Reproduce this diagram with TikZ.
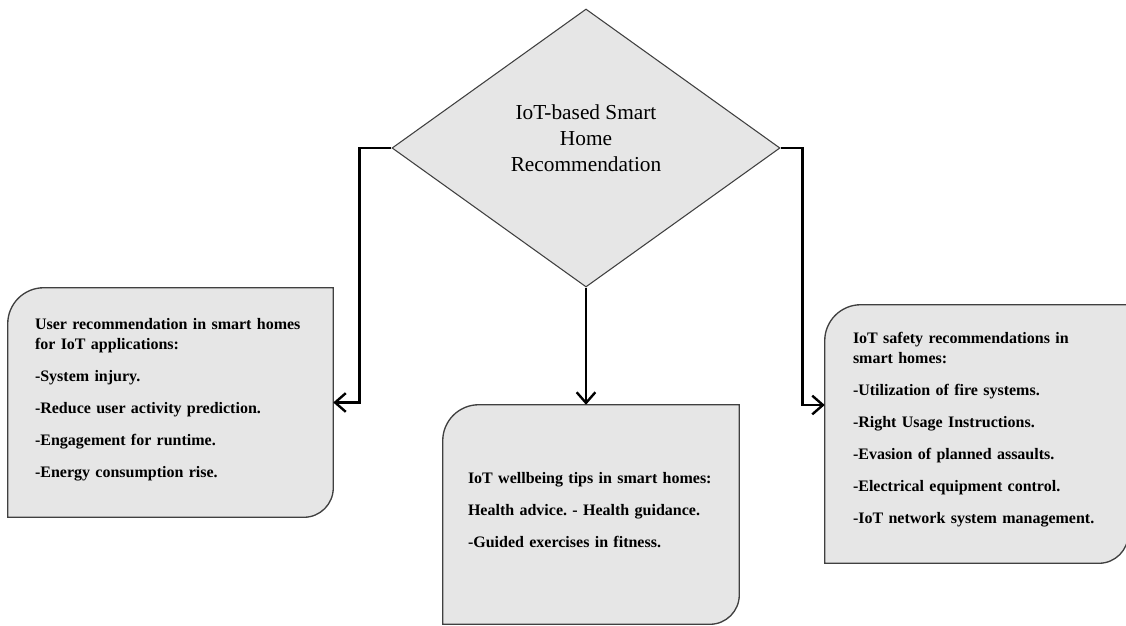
\documentclass[tikz,border=0pt]{standalone}
\usepackage{fontspec}
\setmainfont{Liberation Serif}
\usepackage{xcolor}
\usetikzlibrary{shapes.geometric, arrows.meta, positioning, backgrounds, calc}
\definecolor{cardgray}{RGB}{230,230,230}
\definecolor{edgegray}{RGB}{64,64,64}
\frenchspacing
\tikzset{
  decision/.style={diamond, draw=edgegray, fill=cardgray, line width=0.8pt,
                   inner sep=0pt, minimum width=291pt, minimum height=208.5pt},
  hubtext/.style={align=center, font=\fontsize{16}{19.5}\selectfont},
  card/.style={inner xsep=20pt, inner ysep=0pt, align=left,
               font=\fontsize{12}{15}\selectfont\bfseries},
  cardframe/.style={draw=edgegray, fill=cardgray, line width=1pt},
  arrow/.style={-{Straight Barb[length=8pt, width=14pt]}, line width=1.8pt}
}
\begin{document}
\begin{tikzpicture}[x=0.75pt, y=-0.75pt]
  \useasboundingbox (0,0) rectangle (1126,625);

  % Central decision
  \node[decision, label={[hubtext, yshift=7.5pt]center:{IoT-based Smart\\Home\\Recommendation}}]
    (hub) at (586,148) {};

  % Recommendation cards
  \node[card, text width=203.25pt, minimum width=243.75pt, minimum height=171.75pt]
    (userbox) at (170.5,402.5)
    {User recommendation in smart homes\\for IoT applications:\\[9pt]
     -System injury.\\[9pt]
     -Reduce user activity prediction.\\[9pt]
     -Engagement for runtime.\\[9pt]
     -Energy consumption rise.\par\vspace{4.5pt}\hrule height 0pt};
  \node[card, inner xsep=18.75pt, text width=184.5pt, minimum width=222pt, minimum height=164.25pt]
    (wellbox) at (591,514.5)
    {IoT wellbeing tips in smart homes:\\[9pt]
     Health advice. - Health guidance.\\[9pt]
     -Guided exercises in fitness.\par\vspace{6pt}\hrule height 0pt};
  \node[card, inner xsep=21pt, text width=185.25pt, minimum width=227.25pt, minimum height=193.5pt]
    (safetybox) at (976.5,434)
    {IoT safety recommendations in\\smart homes:\\[9pt]
     -Utilization of fire systems.\\[9pt]
     -Right Usage Instructions.\\[9pt]
     -Evasion of planned assaults.\\[9pt]
     -Electrical equipment control.\\[9pt]
     -IoT network system management.\par\vspace{6pt}\hrule height 0pt};

  % Card outlines, rounded at two corners
  \begin{scope}[on background layer]
    \foreach \c in {userbox, wellbox, safetybox}
      \draw[cardframe] (\c.south west) [rounded corners=27pt] -- (\c.north west)
        [sharp corners] -- (\c.north east) [rounded corners=22pt] -- (\c.south east)
        [sharp corners] -- cycle;
  \end{scope}

  % Arrows
  \draw[arrow] (hub.west) -- ++(-32,0) |- (userbox.east);
  \draw[arrow] (hub.south) -- (hub.south |- wellbox.north);
  \draw[arrow] (hub.east) -- ++(22,0) |- ($(safetybox.west)+(0,-29)$);
\end{tikzpicture}
\end{document}
